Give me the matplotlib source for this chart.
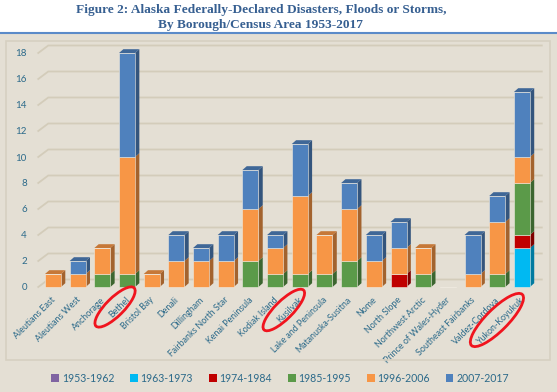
import matplotlib
matplotlib.use('Agg')
import matplotlib.pyplot as plt
from matplotlib.patches import Polygon, Rectangle, Ellipse, Patch
from matplotlib.lines import Line2D
import matplotlib.transforms as mtransforms
import numpy as np

categories = ['Aleutians East', 'Aleutians West', 'Anchorage', 'Bethel', 'Bristol Bay',
              'Denali', 'Dillingham', 'Fairbanks North Star', 'Kenai Peninsula',
              'Kodiak Island', 'Kusilvak', 'Lake and Peninsula', 'Matanuska-Susitna',
              'Nome', 'North Slope', 'Northwest Arctic', 'Prince of Wales-Hyder',
              'Southeast Fairbanks', 'Valdez-Cordova', 'Yukon-Koyukuk']
periods = ['1953-1962', '1963-1973', '1974-1984', '1985-1995', '1996-2006', '2007-2017']
s1953_1962 = [0, 0, 0, 0, 0, 0, 0, 0, 0, 0, 0, 0, 0, 0, 0, 0, 0, 0, 0, 0]
s1963_1973 = [0, 0, 0, 0, 0, 0, 0, 0, 0, 0, 0, 0, 0, 0, 0, 0, 0, 0, 0, 3]
s1974_1984 = [0, 0, 0, 0, 0, 0, 0, 0, 0, 0, 0, 0, 0, 0, 1, 0, 0, 0, 0, 1]
s1985_1995 = [0, 0, 1, 1, 0, 0, 0, 0, 2, 1, 1, 1, 2, 0, 0, 1, 0, 0, 1, 4]
s1996_2006 = [1, 1, 2, 9, 1, 2, 2, 2, 4, 2, 6, 3, 4, 2, 2, 2, 0, 1, 4, 2]
s2007_2017 = [0, 1, 0, 8, 0, 2, 1, 2, 3, 1, 4, 0, 2, 2, 2, 0, 0, 3, 2, 5]
series = [s1953_1962, s1963_1973, s1974_1984, s1985_1995, s1996_2006, s2007_2017]
colors = ['#8064A2', '#00B9F2', '#C00000', '#5B9A49', '#F79646', '#4F81BD']
yticks = [0, 2, 4, 6, 8, 10, 12, 14, 16, 18]

W, H = 557, 392
BG = '#E4DFD4'
GRID = '#D3CCBA'
TXT = '#2C6A8A'

fig = plt.figure(figsize=(W / 100, H / 100), dpi=100, facecolor=BG)

# white header band and blue rule
fig.add_artist(Rectangle((0, 1 - 33 / H), 1, 33 / H, transform=fig.transFigure,
                         facecolor='white', edgecolor='none', zorder=0))
fig.add_artist(Line2D([0, 1], [1 - 33 / H, 1 - 33 / H], transform=fig.transFigure,
                      color='#5B8BC9', lw=1.5, zorder=1))
# inner chart frame
fig.add_artist(Rectangle((6 / W, 1 - 360 / H), 544 / W, 319 / H, transform=fig.transFigure,
                         facecolor='none', edgecolor='#D6D0C1', lw=1.2, zorder=1))

fig.text(261 / W, 1 - 10 / H, 'Figure 2: Alaska Federally-Declared Disasters, Floods or Storms,',
         ha='center', va='center', fontsize=9.6, fontweight='bold',
         family='Liberation Serif', color='#365F91')
fig.text(261 / W, 1 - 25 / H, 'By Borough/Census Area 1953-2017',
         ha='center', va='center', fontsize=9.6, fontweight='bold',
         family='Liberation Serif', color='#365F91')

# axes geometry: category spacing 24.68 px, 13 px per unit
left_px = 53 - 0.5 * 24.68
ax = fig.add_axes([left_px / W, (H - 287) / H, 20 * 24.68 / W, 18.5 * 13 / H])
ax.set_xlim(-0.5, 19.5)
ax.set_ylim(0, 18.5)
ax.set_facecolor('none')
for s in ax.spines.values():
    s.set_visible(False)

px_x = 1 / 24.68
px_y = 1 / 13.0
# back-wall gridlines
gdx, gdy = 10 * px_x, 7.5 * px_y
x_front = -0.5 - 2.4 * px_x
x_end = 19.5 + 7.5 * px_x
for v in yticks:
    ax.plot([x_front, x_front + gdx, x_end], [v, v + gdy, v + gdy], color=GRID,
            lw=1.3, zorder=0, clip_on=False, solid_joinstyle='miter')

def shade(c, f):
    r, g, b = matplotlib.colors.to_rgb(c)
    return (r * f, g * f, b * f)

x = np.arange(len(categories))
bw = 16 * px_x
ddx, ddy = 4.3 * px_x, 3.8 * px_y
bottom = np.zeros(len(categories))
top_color = [None] * len(categories)
for vals, col in zip(series, colors):
    vals = np.array(vals, dtype=float)
    ax.bar(x, vals, bw, bottom=bottom, color=col, edgecolor='#EEE9DF', lw=0.4,
           zorder=3, clip_on=False)
    for i in range(len(categories)):
        if vals[i] > 0:
            b, t = bottom[i], bottom[i] + vals[i]
            xr = x[i] + bw / 2
            ax.add_patch(Polygon([(xr, b), (xr + ddx, b + ddy), (xr + ddx, t + ddy), (xr, t)],
                                 closed=True, facecolor=shade(col, 0.66), edgecolor='none',
                                 zorder=2.9, clip_on=False))
            top_color[i] = col
    bottom = bottom + vals
for i in range(len(categories)):
    if top_color[i] is not None:
        t = bottom[i]
        xl, xr = x[i] - bw / 2, x[i] + bw / 2
        ax.add_patch(Polygon([(xl, t), (xl + ddx, t + ddy), (xr + ddx, t + ddy), (xr, t)],
                             closed=True, facecolor=shade(top_color[i], 0.8), edgecolor='none',
                             zorder=3.1, clip_on=False))

ax.set_yticks(yticks)
ax.set_yticklabels([str(v) for v in yticks], fontsize=7, color=TXT, family='Lato')
ax.tick_params(axis='y', length=0, pad=10)
ax.set_xticks(x)
ax.set_xticklabels(categories, rotation=45, ha='right', va='top', rotation_mode='anchor',
                   fontsize=6.4, color=TXT, family='Lato')
ax.tick_params(axis='x', length=0, pad=6)
for lab in ax.get_xticklabels():
    lab.set_transform(lab.get_transform() + mtransforms.ScaledTranslation(-2 / 100, 0, fig.dpi_scale_trans))

# red highlight ellipses around selected labels
fig.canvas.draw()
for name, (ox, oy, w, h) in {'Bethel': (-12, -20, 54, 18),
                             'Kusilvak': (-16, -23, 56, 18),
                             'Yukon-Koyukuk': (-25, -33, 72, 22)}.items():
    i = categories.index(name)
    cx, cy = ax.transData.transform((i, 0))
    fig.add_artist(Ellipse((cx + ox, cy + oy), w, h, angle=45, facecolor='none',
                           edgecolor='#F0141E', lw=2.0,
                           transform=mtransforms.IdentityTransform(), zorder=5))

handles = [Patch(facecolor=c, edgecolor='none', label=p) for c, p in zip(colors, periods)]
fig.legend(handles=handles, loc='center', bbox_to_anchor=(280 / W, 1 - 378 / H), ncol=6,
           frameon=False, handlelength=0.75, handleheight=0.75, handletextpad=0.25,
           columnspacing=1.5, prop={'family': 'Lato', 'size': 7.6}, labelcolor=TXT)

fig.savefig('out.png', dpi=100, facecolor=BG)
